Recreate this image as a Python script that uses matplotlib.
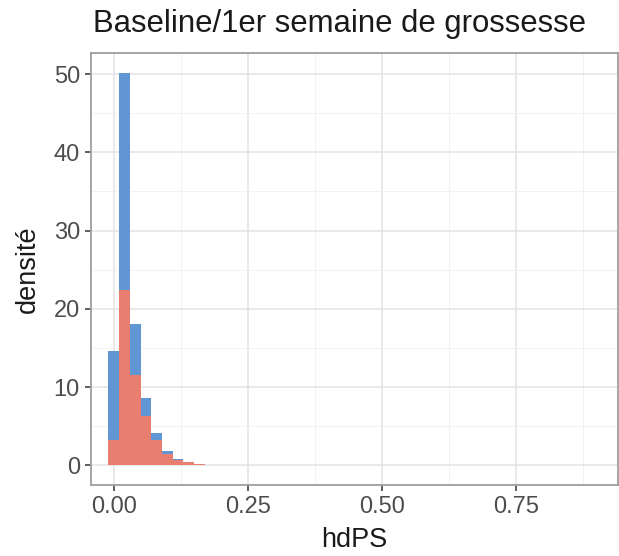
import matplotlib
matplotlib.use("Agg")
import matplotlib.pyplot as plt
from matplotlib.ticker import MultipleLocator

plt.rcParams["font.family"] = ["Liberation Sans", "DejaVu Sans"]

# histogram bins (centres) and densities of the two groups
bin_centers = [0.00, 0.02, 0.04, 0.06, 0.08, 0.10, 0.12, 0.14, 0.16]
bin_width = 0.02
density_blue = [14.6, 50.2, 18.1, 8.6, 4.1, 1.8, 0.8, 0.3, 0.1]
density_red = [3.3, 22.4, 11.5, 6.35, 3.3, 1.4, 0.64, 0.38, 0.13]

x_ticks = [0.00, 0.25, 0.50, 0.75]
x_tick_labels = ["0.00", "0.25", "0.50", "0.75"]
y_ticks = [0, 10, 20, 30, 40, 50]

title = "Baseline/1er semaine de grossesse"
x_label = "hdPS"
y_label = "densité"

W, H = 619, 556
fig = plt.figure(figsize=(W / 100, H / 100), dpi=100)
L, R, T, B = 91, 618, 53, 485
ax = fig.add_axes([L / W, (H - B) / H, (R - L) / W, (B - T) / H])

ax.bar(bin_centers, density_blue, width=bin_width, color="#6195D3",
       linewidth=0, zorder=2)
ax.bar(bin_centers, density_red, width=bin_width, color="#E87E70",
       linewidth=0, zorder=3)

ax.set_xlim(-0.0424, 0.941)
ax.set_ylim(-2.51, 52.7)

ax.set_xticks(x_ticks)
ax.set_xticklabels(x_tick_labels)
ax.set_yticks(y_ticks)
ax.xaxis.set_minor_locator(MultipleLocator(0.125))
ax.yaxis.set_minor_locator(MultipleLocator(5))

ax.grid(which="major", color="#E3E3E3", linewidth=1.1, zorder=0)
ax.grid(which="minor", color="#F0F0F0", linewidth=0.6, zorder=0)
ax.set_axisbelow(True)

for s in ax.spines.values():
    s.set_color("#9E9E9E")
    s.set_linewidth(1.3)

ax.tick_params(which="major", length=4, width=1.1, color="#333333",
               labelcolor="#4D4D4D", labelsize=17, pad=4)
ax.tick_params(which="minor", length=0)

fig.text((L + R) / 2 / W, 1 - 547 / H, x_label, fontsize=19.5,
         color="#1A1A1A", ha="center", va="baseline")
fig.text(28 / W, 1 - (T + B) / 2 / H, y_label, fontsize=19.5,
         color="#1A1A1A", ha="center", va="center", rotation=90)
fig.text(93 / W, 1 - 32 / H, title, fontsize=22.4, color="#1A1A1A",
         ha="left", va="baseline")

fig.savefig("out.png", dpi=100)
